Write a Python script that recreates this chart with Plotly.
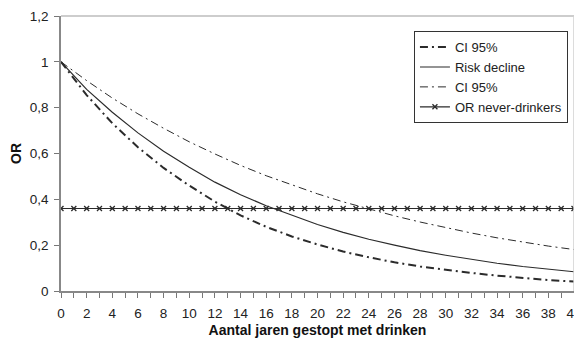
import plotly.graph_objects as go

years = [0, 2, 4, 6, 8, 10, 12, 14, 16, 18, 20, 22, 24, 26, 28, 30, 32, 34, 36, 38, 40]
ci_lower = [1.0, 0.855, 0.732, 0.627, 0.537, 0.46, 0.39, 0.33, 0.28, 0.238, 0.203, 0.172, 0.147, 0.125, 0.107, 0.092, 0.079, 0.067, 0.057, 0.048, 0.041]
risk_decline = [1.0, 0.88, 0.78, 0.69, 0.61, 0.54, 0.475, 0.42, 0.372, 0.33, 0.29, 0.256, 0.226, 0.2, 0.176, 0.156, 0.138, 0.121, 0.107, 0.095, 0.084]
ci_upper = [1.0, 0.918, 0.842, 0.773, 0.71, 0.651, 0.598, 0.548, 0.503, 0.462, 0.424, 0.389, 0.357, 0.328, 0.301, 0.276, 0.253, 0.232, 0.213, 0.196, 0.181]
never_years = list(range(0, 41))
never_or = [0.36] * len(never_years)

x_tickvals = list(range(0, 41))
x_ticktext = [str(v) if v % 2 == 0 else "" for v in x_tickvals]
y_tickvals = [0, 0.2, 0.4, 0.6, 0.8, 1.0, 1.2]
y_ticktext = ["0", "0,2", "0,4", "0,6", "0,8", "1", "1,2"]

ink = "#2b2b2b"
dashdot = "8px,4px,2px,4px"
fig = go.Figure()
fig.add_trace(go.Scatter(x=years, y=ci_lower, mode="lines", name="CI 95%",
                         line=dict(color=ink, width=2, dash=dashdot)))
fig.add_trace(go.Scatter(x=years, y=risk_decline, mode="lines", name="Risk decline",
                         line=dict(color=ink, width=1.2)))
fig.add_trace(go.Scatter(x=years, y=ci_upper, mode="lines", name="CI 95%",
                         line=dict(color=ink, width=1, dash=dashdot)))
fig.add_trace(go.Scatter(x=never_years, y=never_or, mode="lines+markers", name="OR never-drinkers",
                         line=dict(color=ink, width=1.2),
                         marker=dict(symbol="x-thin", size=5, line=dict(color=ink, width=1.3))))

# the page body has an 8px margin, so the figure is sized to fit the 582x338 window
fig.update_layout(
    width=574, height=330,
    margin=dict(l=53, r=8, t=8, b=47, autoexpand=False),
    paper_bgcolor="white", plot_bgcolor="white",
    font=dict(family="Liberation Sans, Arial, sans-serif", color="#222", size=13),
    showlegend=True,
    legend=dict(x=0.688, y=0.945, xanchor="left", yanchor="top",
                bgcolor="white", bordercolor="#333", borderwidth=1,
                font=dict(size=13, color="#222"), tracegroupgap=0),
)
fig.update_xaxes(
    range=[0, 40], tickvals=x_tickvals, ticktext=x_ticktext,
    ticks="outside", ticklen=5, tickcolor="#777", tickwidth=1,
    ticklabelstandoff=4,
    showline=True, linecolor="#888", linewidth=1.5, mirror=False,
    showgrid=False, zeroline=False, automargin=False,
    tickfont=dict(size=13.5, color="#222"),
    title=dict(text="<b>Aantal jaren gestopt met drinken</b>", font=dict(size=14, color="#111"), standoff=5),
)
fig.update_yaxes(
    range=[0, 1.2], tickvals=y_tickvals, ticktext=y_ticktext,
    ticks="outside", ticklen=5, tickcolor="#777", tickwidth=1,
    ticklabelstandoff=3,
    showline=True, linecolor="#888", linewidth=1.5,
    showgrid=False, zeroline=False, automargin=False,
    tickfont=dict(size=13.5, color="#222"),
    title=dict(text="<b>OR</b>", font=dict(size=14, color="#111"), standoff=10),
)
# light frame on top and right
fig.add_shape(type="line", xref="paper", yref="paper", x0=0, x1=1, y0=1, y1=1,
              line=dict(color="#bdbdbd", width=1.5))
fig.add_shape(type="line", xref="paper", yref="paper", x0=1, x1=1, y0=0, y1=1,
              line=dict(color="#d0d0d0", width=1.5))

fig.write_html("out.html")
